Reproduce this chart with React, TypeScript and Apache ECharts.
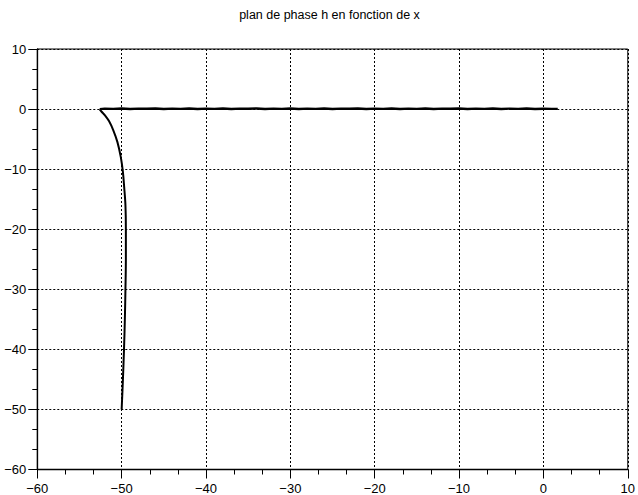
import React, { useEffect, useRef } from "react";
import * as echarts from "echarts";

const titleText = "plan de phase h en fonction de x";

// descending branch of the trajectory (x, h)
const curveX = [-50.0, -49.85, -49.72, -49.62, -49.55, -49.5, -49.5, -49.55, -49.7, -49.85, -50.1, -50.5, -51.0, -51.5, -52.0, -52.4, -52.6];
const curveH = [-50, -45, -40, -35, -30, -25, -20, -16, -13, -10.5, -8, -5.5, -3.5, -2.0, -1.0, -0.4, -0.05];

// nearly flat branch along h = 0 (slightly noisy)
const flatX = [-52.6, -52.0, -51, -50, -49, -48, -47, -46, -45, -44, -43, -42, -41, -40, -39, -38, -37, -36, -35, -34, -33, -32, -31, -30, -29, -28, -27, -26, -25, -24, -23, -22, -21, -20, -19, -18, -17, -16, -15, -14, -13, -12, -11, -10, -9, -8, -7, -6, -5, -4, -3, -2, -1, 0, 1, 1.7];
const flatH = [0.0, 0.08, 0.04, 0.1, 0.02, 0.08, 0.05, 0.1, 0.02, 0.07, 0.03, 0.1, 0.0, 0.08, 0.04, 0.09, 0.01, 0.07, 0.05, 0.1, 0.02, 0.08, 0.03, 0.09, 0.01, 0.08, 0.04, 0.1, 0.02, 0.07, 0.05, 0.09, 0.01, 0.08, 0.03, 0.1, 0.02, 0.07, 0.04, 0.09, 0.01, 0.08, 0.05, 0.1, 0.02, 0.07, 0.03, 0.09, 0.01, 0.08, 0.04, 0.09, 0.02, 0.06, 0.04, 0.04];

const xTicks = { min: -60, max: 10, interval: 10 };
const yTicks = { min: -60, max: 10, interval: 10 };

const FONT = "'Liberation Sans', Arial, Helvetica, sans-serif";

export default function App() {
  const ref = useRef<HTMLDivElement>(null);
  useEffect(() => {
    if (!ref.current) return;
    const chart = echarts.init(ref.current, null, { renderer: "svg" });
    const curve: [number, number][] = curveX.map((x, i) => [x, curveH[i]]);
    const flat: [number, number][] = flatX.map((x, i) => [x, flatH[i]]);
    const fmt = (v: number) => String(v).replace("-", "\u2212");
    const axisCommon = {
      type: "value" as const,
      axisLine: { show: true, onZero: false, lineStyle: { color: "#000", width: 1.3 } },
      axisTick: { show: true, inside: false, length: 9, lineStyle: { color: "#000", width: 1 } },
      minorTick: { show: true, splitNumber: 3, length: 5, lineStyle: { color: "#000", width: 1 } },
      splitLine: { show: true, lineStyle: { color: "#000", width: 1, type: [2, 2] } },
      axisLabel: { color: "#000", fontSize: 13, fontFamily: FONT, formatter: fmt },
    };
    chart.setOption({
      animation: false,
      backgroundColor: "#fff",
      grid: { left: 37.3, right: 5.7, top: 49, bottom: 25.5, show: true, borderColor: "#000", borderWidth: 1, backgroundColor: "transparent" },
      graphic: [
        {
          type: "text",
          x: 329.5,
          y: 14.5,
          style: { text: titleText, fontSize: 12.5, fontFamily: FONT, fill: "#000", textAlign: "center", textVerticalAlign: "middle" },
        },
      ],
      xAxis: { ...axisCommon, ...xTicks, axisLabel: { ...axisCommon.axisLabel, margin: 12 } },
      yAxis: { ...axisCommon, ...yTicks, axisLabel: { ...axisCommon.axisLabel, margin: 11 } },
      series: [
        {
          type: "line",
          data: curve,
          showSymbol: false,
          symbol: "none",
          smooth: 0.35,
          lineStyle: { color: "#000", width: 2 },
          z: 5,
        },
        {
          type: "line",
          data: flat,
          showSymbol: false,
          symbol: "none",
          lineStyle: { color: "#000", width: 2.4 },
          z: 5,
        },
      ],
    });
    return () => chart.dispose();
  }, []);
  return <div ref={ref} style={{ position: "fixed", left: 0, top: 0, width: 638, height: 495 }} />;
}
